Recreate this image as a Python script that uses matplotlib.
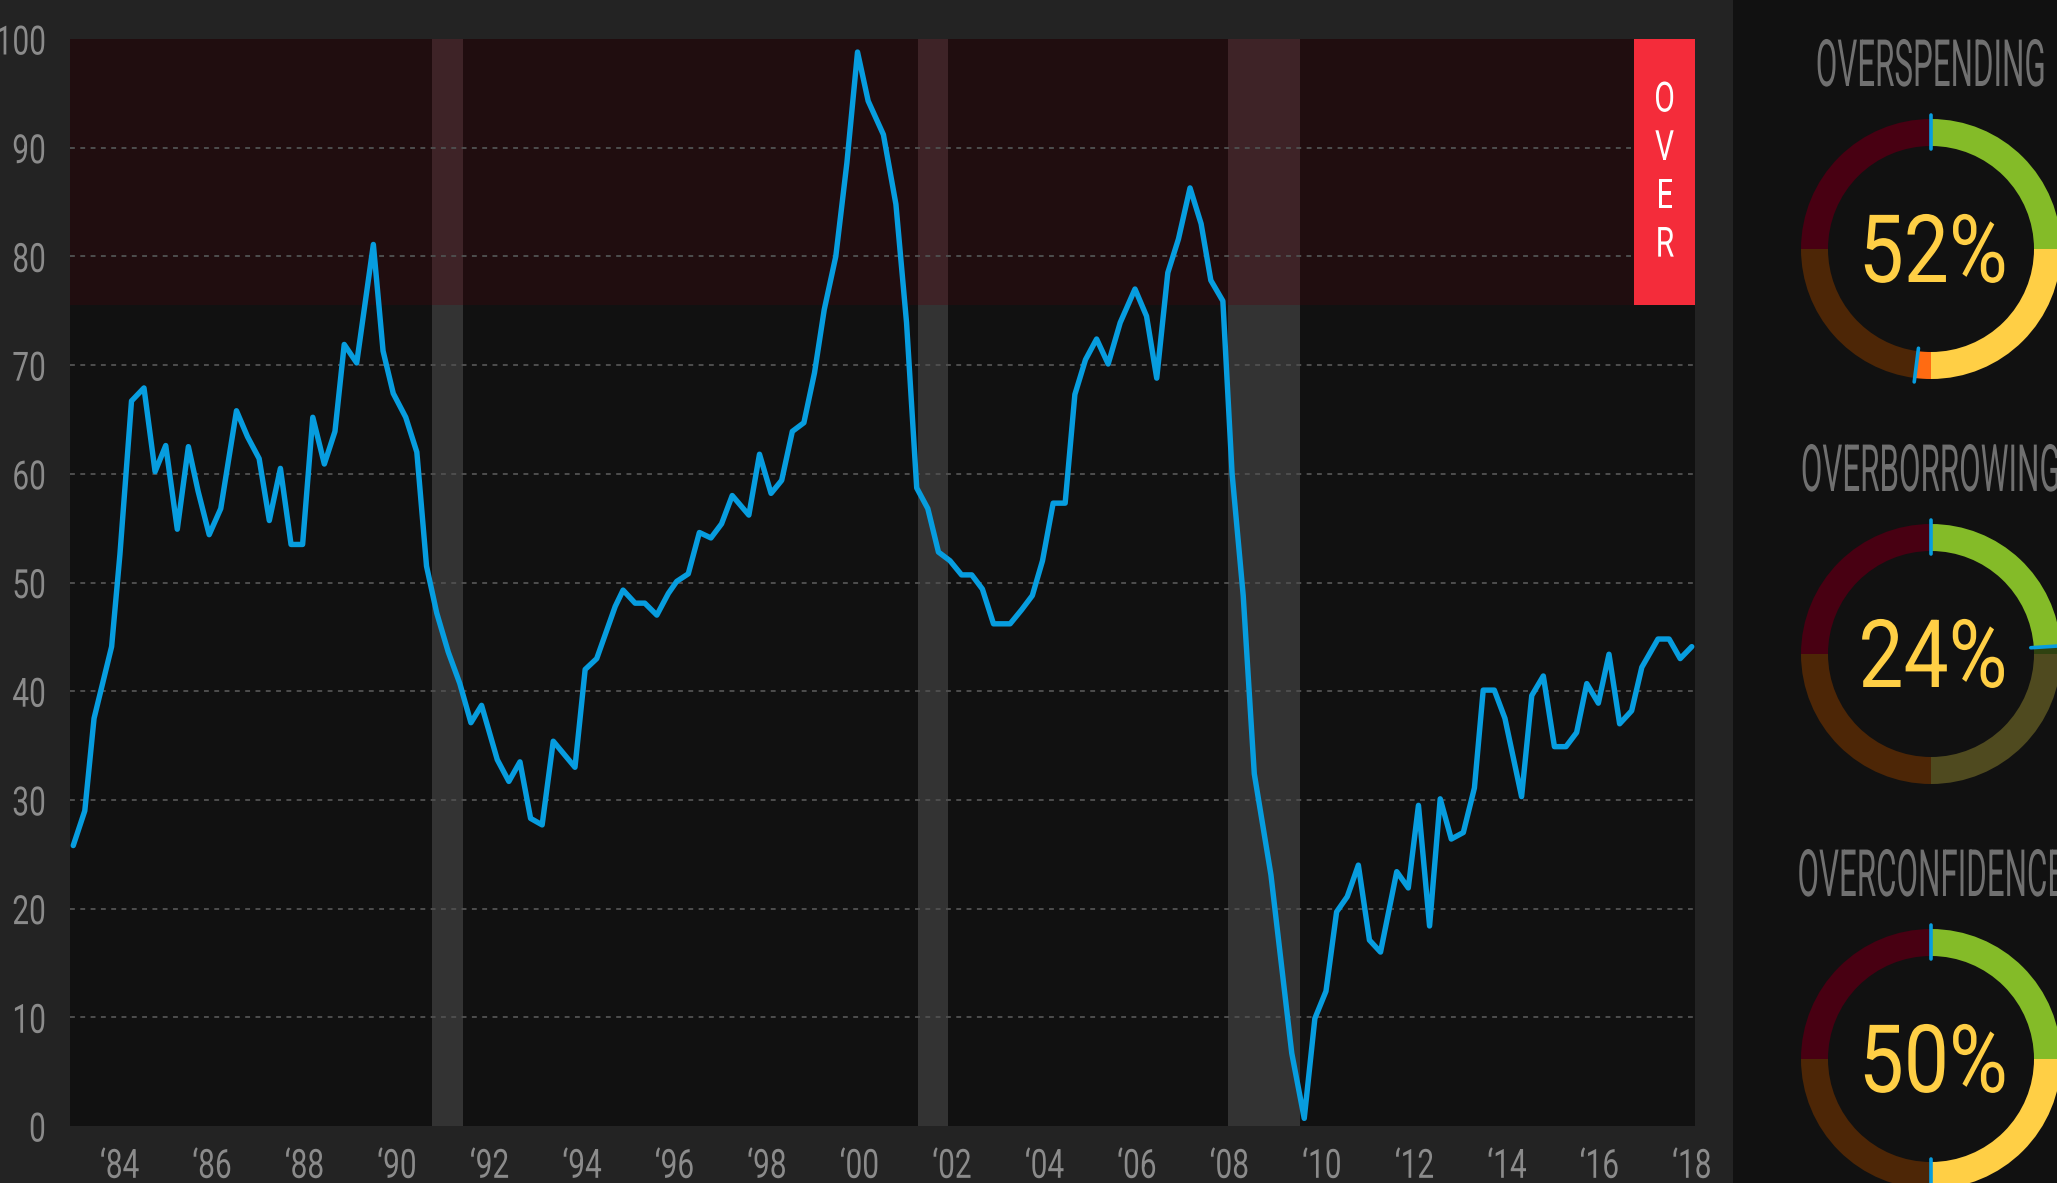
import matplotlib
matplotlib.use("Agg")
import matplotlib.pyplot as plt
from matplotlib.patches import Rectangle, Wedge
from matplotlib.patheffects import AbstractPathEffect
from matplotlib.transforms import Affine2D, blended_transform_factory
import numpy as np

# ---- data ----
dates = [1983.00, 1983.25, 1983.45, 1983.83, 1984.01, 1984.26, 1984.53, 1984.77, 1985.00, 1985.25,
         1985.49, 1985.70, 1985.94, 1986.19, 1986.53, 1986.77, 1987.02, 1987.24, 1987.48, 1987.71,
         1987.96, 1988.18, 1988.43, 1988.66, 1988.86,
         1989.13, 1989.49, 1989.70, 1989.92, 1990.19, 1990.43, 1990.64, 1990.86, 1991.11, 1991.36,
         1991.60, 1991.83, 1992.17, 1992.42, 1992.66, 1992.89, 1993.14, 1993.38, 1993.85, 1994.07,
         1994.32, 1994.72,
         1994.89, 1995.15, 1995.36, 1995.62, 1995.87, 1996.05, 1996.30, 1996.54, 1996.79, 1997.02,
         1997.25, 1997.61, 1997.84, 1998.09, 1998.32, 1998.55, 1998.80, 1999.03, 1999.24, 1999.49,
         1999.73, 1999.96, 2000.19, 2000.52,
         2000.79, 2001.02, 2001.24, 2001.48, 2001.71, 2001.96, 2002.21, 2002.43, 2002.66, 2002.90,
         2003.26, 2003.51, 2003.74, 2003.96, 2004.19, 2004.45, 2004.66, 2004.89, 2005.13, 2005.38,
         2005.64, 2005.96, 2006.21,
         2006.43, 2006.67, 2006.90, 2007.15, 2007.39, 2007.60, 2007.86, 2008.06, 2008.30, 2008.54,
         2008.90, 2009.13, 2009.35, 2009.62, 2009.85, 2010.09, 2010.32, 2010.55, 2010.79, 2011.03,
         2011.27, 2011.62, 2011.87, 2012.09,
         2012.33, 2012.56, 2012.80, 2013.06, 2013.30, 2013.49, 2013.73, 2013.96, 2014.32, 2014.54,
         2014.79, 2015.03, 2015.28, 2015.51, 2015.73, 2015.98, 2016.21, 2016.44, 2016.70, 2016.92,
         2017.27, 2017.51, 2017.75, 2018.00]
values = [25.8, 29.0, 37.5, 44.1, 52.6, 66.7, 67.9, 60.2, 62.6, 54.9,
          62.5, 58.4, 54.4, 56.8, 65.8, 63.4, 61.4, 55.7, 60.5, 53.5,
          53.5, 65.2, 60.9, 63.9, 71.9,
          70.2, 81.1, 71.3, 67.4, 65.2, 62.0, 51.5, 47.2, 43.6, 40.7,
          37.1, 38.7, 33.7, 31.7, 33.5, 28.3, 27.7, 35.4, 33.0, 42.0,
          43.0, 47.8,
          49.3, 48.1, 48.1, 47.0, 49.0, 50.1, 50.8, 54.6, 54.1, 55.4,
          58.0, 56.2, 61.8, 58.2, 59.4, 63.9, 64.7, 69.3, 75.1, 80.0,
          88.6, 98.8, 94.3, 91.2,
          84.8, 73.9, 58.7, 56.8, 52.8, 52.0, 50.7, 50.7, 49.4, 46.2,
          46.2, 47.5, 48.8, 52.0, 57.3, 57.3, 67.3, 70.5, 72.4, 70.1,
          73.9, 77.0, 74.5,
          68.8, 78.5, 81.6, 86.3, 83.0, 77.8, 75.9, 60.0, 48.8, 32.4,
          23.1, 14.7, 6.7, 0.7, 9.9, 12.4, 19.7, 21.1, 24.0, 17.1,
          16.0, 23.4, 21.9, 29.5,
          18.4, 30.1, 26.4, 27.0, 31.1, 40.1, 40.1, 37.5, 30.3, 39.6,
          41.4, 34.9, 34.9, 36.2, 40.7, 38.9, 43.4, 37.0, 38.2, 42.2,
          44.8, 44.8, 43.0, 44.1]

recessions = [(1990.75, 1991.42), (2001.26, 2001.91), (2007.97, 2009.53)]
over_level = 75.5
over_label = "OVER"

year_ticks = list(range(1984, 2019, 2))
year_labels = ["\u2018" + str(y)[2:] for y in year_ticks]
value_ticks = list(range(0, 101, 10))

gauge_names = ["OVERSPENDING", "OVERBORROWING", "OVERCONFIDENCE"]
gauge_values = [52, 24, 50]

FONT = ["Roboto", "DejaVu Sans"]
BLUE = "#079ddf"


class Squeeze(AbstractPathEffect):
    # narrow the glyphs horizontally to mimic a condensed face
    def __init__(self, sx, anchor=0.5):
        super().__init__()
        self.sx = sx
        self.anchor = anchor

    def draw_path(self, renderer, gc, tpath, affine, rgbFace=None):
        ext = tpath.get_extents()
        x0 = ext.x0 + self.anchor * ext.width
        t = Affine2D().translate(-x0, 0).scale(self.sx, 1).translate(x0, 0)
        renderer.draw_path(gc, tpath, t + affine, rgbFace)


W, H = 2057, 1183
fig = plt.figure(figsize=(W / 100, H / 100), dpi=100, facecolor="#232323")

# ---- main chart ----
ax = fig.add_axes([70 / W, 57 / H, 1625 / W, 1087 / H])
ax.set_facecolor("#111111")
ax.set_xlim(1982.93, 2018.07)
ax.set_ylim(0, 100)

ax.axhspan(over_level, 100, color="#200d0f", lw=0, zorder=0)
for s, e in recessions:
    ax.axvspan(s, e, ymin=0, ymax=over_level / 100, color="#333333", lw=0, zorder=0.5)
    ax.axvspan(s, e, ymin=over_level / 100, ymax=1, color="#3e2327", lw=0, zorder=0.5)

for v in value_ticks[1:-1]:
    ax.axhline(v, color="#4e4e4e", lw=1.4, ls=(0, (2.5, 2.8)), zorder=1)

ax.plot(dates, values, color=BLUE, lw=3.9, zorder=3,
        solid_joinstyle="round", solid_capstyle="round")

# OVER flag at the right end of the red zone
bt = blended_transform_factory(ax.transAxes, ax.transData)
box_w = 61 / 1625
ax.add_patch(Rectangle((1 - box_w, over_level), box_w, 100 - over_level,
                       transform=bt, color="#f42c3a", lw=0, zorder=2))
for k, ch in enumerate(over_label):
    ax.text(1 - box_w / 2, 100 - 5.2 - 4.45 * k, ch, transform=bt, color="white",
            fontsize=30, family=FONT, ha="center", va="center_baseline", zorder=4,
            path_effects=[Squeeze(0.72)])

for sp in ax.spines.values():
    sp.set_visible(False)
ax.set_xticks(year_ticks)
xl = ax.set_xticklabels(year_labels)
ax.set_yticks(value_ticks)
yl = ax.set_yticklabels([str(v) for v in value_ticks])
ax.tick_params(length=0, colors="#8b8b8b", labelsize=29)
ax.tick_params(axis="x", pad=15)
ax.tick_params(axis="y", pad=17)
for t in xl:
    t.set_family(FONT)
    t.set_path_effects([Squeeze(0.74)])
for t in yl:
    t.set_family(FONT)
    t.set_path_effects([Squeeze(0.74, anchor=1.0)])

# ---- gauge panel ----
ov = fig.add_axes([0, 0, 1, 1])
ov.set_xlim(0, W)
ov.set_ylim(0, H)
ov.axis("off")
ov.add_patch(Rectangle((1733, 0), W - 1733, H, color="#111111", lw=0, zorder=0))

bright = ["#84bb28", "#ffcf45", "#ff6b12", "#f42c3a"]
dark = ["#2f4210", "#4f4a1f", "#4d2606", "#480012"]
cx = 1931
r_out, ring = 130, 27

for k, (name, val) in enumerate(zip(gauge_names, gauge_values)):
    cy = 934 - 405 * k
    fill = val * 3.6  # clockwise degrees from the top
    for q in range(4):
        s, e = 90 * q, 90 * (q + 1)
        if fill > s:
            ov.add_patch(Wedge((cx, cy), r_out, 90 - min(e, fill), 90 - s,
                               width=ring, color=bright[q], lw=0, zorder=1))
        if fill < e:
            ov.add_patch(Wedge((cx, cy), r_out, 90 - e, 90 - max(s, fill),
                               width=ring, color=dark[q], lw=0, zorder=1))
    for c in (0, fill):
        a = np.radians(90 - c)
        rr = np.array([100, 134])
        ov.plot(cx + rr * np.cos(a), cy + rr * np.sin(a), color=BLUE, lw=2.6,
                solid_capstyle="round", zorder=2)
    ov.text(cx + 2, cy - 33, f"{val}%", color="#ffcf45", fontsize=68, family=FONT,
            ha="center", va="baseline", zorder=3, path_effects=[Squeeze(0.85)])
    ov.text(cx, cy + 163, name, color="#707070", fontsize=47, family=FONT,
            ha="center", va="baseline", zorder=3, path_effects=[Squeeze(0.48)])

fig.savefig("out.png", dpi=100, facecolor=fig.get_facecolor())
